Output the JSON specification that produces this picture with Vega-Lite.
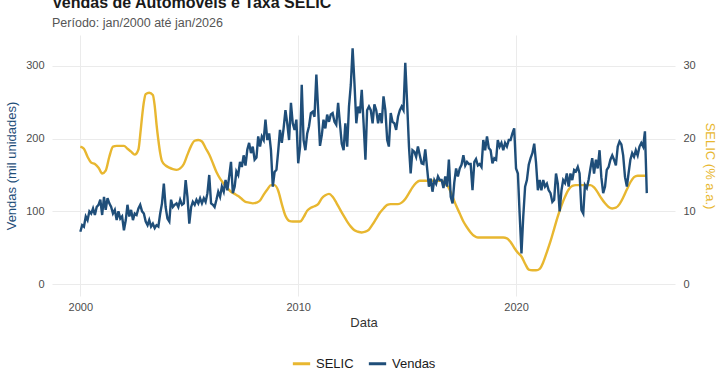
{
"$schema": "https://vega.github.io/schema/vega-lite/v6.json",
"width": 623, "height": 261,
"autosize": {"type": "none"},
"padding": {"left": 52, "top": 35, "right": 45, "bottom": 79},
"background": "white",
"title": {"text": "Vendas de Automóveis e Taxa SELIC", "subtitle": "Período: jan/2000 até jan/2026", "anchor": "start", "frame": "group", "font": "Liberation Sans", "fontSize": 16, "fontWeight": "bold", "color": "#1a1a1a", "subtitleFont": "Liberation Sans", "subtitleFontSize": 12.5, "subtitleColor": "#555555", "subtitlePadding": 6, "offset": 6},
"datasets": {
"vendas": [
{"mes":"2000-01-01","vendas":72},{"mes":"2000-02-01","vendas":81},{"mes":"2000-03-01","vendas":79},{"mes":"2000-04-01","vendas":93},{"mes":"2000-05-01","vendas":88},{"mes":"2000-06-01","vendas":100},{"mes":"2000-07-01","vendas":97},{"mes":"2000-08-01","vendas":104},{"mes":"2000-09-01","vendas":95},{"mes":"2000-10-01","vendas":106},{"mes":"2000-11-01","vendas":109},{"mes":"2000-12-01","vendas":116},
{"mes":"2001-01-01","vendas":95},{"mes":"2001-02-01","vendas":120},{"mes":"2001-03-01","vendas":102},{"mes":"2001-04-01","vendas":118},{"mes":"2001-05-01","vendas":111},{"mes":"2001-06-01","vendas":106},{"mes":"2001-07-01","vendas":97},{"mes":"2001-08-01","vendas":102},{"mes":"2001-09-01","vendas":88},{"mes":"2001-10-01","vendas":100},{"mes":"2001-11-01","vendas":90},{"mes":"2001-12-01","vendas":93},
{"mes":"2002-01-01","vendas":74},{"mes":"2002-02-01","vendas":88},{"mes":"2002-03-01","vendas":109},{"mes":"2002-04-01","vendas":93},{"mes":"2002-05-01","vendas":102},{"mes":"2002-06-01","vendas":88},{"mes":"2002-07-01","vendas":97},{"mes":"2002-08-01","vendas":95},{"mes":"2002-09-01","vendas":104},{"mes":"2002-10-01","vendas":109},{"mes":"2002-11-01","vendas":100},{"mes":"2002-12-01","vendas":97},
{"mes":"2003-01-01","vendas":86},{"mes":"2003-02-01","vendas":81},{"mes":"2003-03-01","vendas":88},{"mes":"2003-04-01","vendas":79},{"mes":"2003-05-01","vendas":83},{"mes":"2003-06-01","vendas":77},{"mes":"2003-07-01","vendas":81},{"mes":"2003-08-01","vendas":79},{"mes":"2003-09-01","vendas":97},{"mes":"2003-10-01","vendas":111},{"mes":"2003-11-01","vendas":138},{"mes":"2003-12-01","vendas":106},
{"mes":"2004-01-01","vendas":90},{"mes":"2004-02-01","vendas":86},{"mes":"2004-03-01","vendas":116},{"mes":"2004-04-01","vendas":106},{"mes":"2004-05-01","vendas":109},{"mes":"2004-06-01","vendas":111},{"mes":"2004-07-01","vendas":106},{"mes":"2004-08-01","vendas":116},{"mes":"2004-09-01","vendas":109},{"mes":"2004-10-01","vendas":111},{"mes":"2004-11-01","vendas":143},{"mes":"2004-12-01","vendas":120},
{"mes":"2005-01-01","vendas":83},{"mes":"2005-02-01","vendas":106},{"mes":"2005-03-01","vendas":113},{"mes":"2005-04-01","vendas":109},{"mes":"2005-05-01","vendas":116},{"mes":"2005-06-01","vendas":111},{"mes":"2005-07-01","vendas":118},{"mes":"2005-08-01","vendas":111},{"mes":"2005-09-01","vendas":118},{"mes":"2005-10-01","vendas":113},{"mes":"2005-11-01","vendas":125},{"mes":"2005-12-01","vendas":150},
{"mes":"2006-01-01","vendas":111},{"mes":"2006-02-01","vendas":109},{"mes":"2006-03-01","vendas":106},{"mes":"2006-04-01","vendas":116},{"mes":"2006-05-01","vendas":127},{"mes":"2006-06-01","vendas":120},{"mes":"2006-07-01","vendas":134},{"mes":"2006-08-01","vendas":127},{"mes":"2006-09-01","vendas":143},{"mes":"2006-10-01","vendas":129},{"mes":"2006-11-01","vendas":148},{"mes":"2006-12-01","vendas":168},
{"mes":"2007-01-01","vendas":125},{"mes":"2007-02-01","vendas":134},{"mes":"2007-03-01","vendas":155},{"mes":"2007-04-01","vendas":150},{"mes":"2007-05-01","vendas":168},{"mes":"2007-06-01","vendas":161},{"mes":"2007-07-01","vendas":177},{"mes":"2007-08-01","vendas":163},{"mes":"2007-09-01","vendas":185},{"mes":"2007-10-01","vendas":194},{"mes":"2007-11-01","vendas":180},{"mes":"2007-12-01","vendas":189},
{"mes":"2008-01-01","vendas":171},{"mes":"2008-02-01","vendas":174},{"mes":"2008-03-01","vendas":203},{"mes":"2008-04-01","vendas":189},{"mes":"2008-05-01","vendas":203},{"mes":"2008-06-01","vendas":198},{"mes":"2008-07-01","vendas":226},{"mes":"2008-08-01","vendas":198},{"mes":"2008-09-01","vendas":207},{"mes":"2008-10-01","vendas":184},{"mes":"2008-11-01","vendas":134},{"mes":"2008-12-01","vendas":154},
{"mes":"2009-01-01","vendas":157},{"mes":"2009-02-01","vendas":184},{"mes":"2009-03-01","vendas":212},{"mes":"2009-04-01","vendas":194},{"mes":"2009-05-01","vendas":214},{"mes":"2009-06-01","vendas":239},{"mes":"2009-07-01","vendas":221},{"mes":"2009-08-01","vendas":198},{"mes":"2009-09-01","vendas":249},{"mes":"2009-10-01","vendas":221},{"mes":"2009-11-01","vendas":212},{"mes":"2009-12-01","vendas":226},
{"mes":"2010-01-01","vendas":166},{"mes":"2010-02-01","vendas":189},{"mes":"2010-03-01","vendas":274},{"mes":"2010-04-01","vendas":198},{"mes":"2010-05-01","vendas":184},{"mes":"2010-06-01","vendas":207},{"mes":"2010-07-01","vendas":217},{"mes":"2010-08-01","vendas":235},{"mes":"2010-09-01","vendas":237},{"mes":"2010-10-01","vendas":230},{"mes":"2010-11-01","vendas":288},{"mes":"2010-12-01","vendas":240},
{"mes":"2011-01-01","vendas":190},{"mes":"2011-02-01","vendas":205},{"mes":"2011-03-01","vendas":226},{"mes":"2011-04-01","vendas":214},{"mes":"2011-05-01","vendas":233},{"mes":"2011-06-01","vendas":223},{"mes":"2011-07-01","vendas":233},{"mes":"2011-08-01","vendas":235},{"mes":"2011-09-01","vendas":223},{"mes":"2011-10-01","vendas":219},{"mes":"2011-11-01","vendas":249},{"mes":"2011-12-01","vendas":221},
{"mes":"2012-01-01","vendas":193},{"mes":"2012-02-01","vendas":184},{"mes":"2012-03-01","vendas":221},{"mes":"2012-04-01","vendas":189},{"mes":"2012-05-01","vendas":244},{"mes":"2012-06-01","vendas":274},{"mes":"2012-07-01","vendas":324},{"mes":"2012-08-01","vendas":276},{"mes":"2012-09-01","vendas":221},{"mes":"2012-10-01","vendas":244},{"mes":"2012-11-01","vendas":235},{"mes":"2012-12-01","vendas":267},
{"mes":"2013-01-01","vendas":221},{"mes":"2013-02-01","vendas":171},{"mes":"2013-03-01","vendas":239},{"mes":"2013-04-01","vendas":244},{"mes":"2013-05-01","vendas":239},{"mes":"2013-06-01","vendas":221},{"mes":"2013-07-01","vendas":247},{"mes":"2013-08-01","vendas":239},{"mes":"2013-09-01","vendas":221},{"mes":"2013-10-01","vendas":235},{"mes":"2013-11-01","vendas":221},{"mes":"2013-12-01","vendas":258},
{"mes":"2014-01-01","vendas":239},{"mes":"2014-02-01","vendas":198},{"mes":"2014-03-01","vendas":189},{"mes":"2014-04-01","vendas":235},{"mes":"2014-05-01","vendas":223},{"mes":"2014-06-01","vendas":221},{"mes":"2014-07-01","vendas":212},{"mes":"2014-08-01","vendas":230},{"mes":"2014-09-01","vendas":239},{"mes":"2014-10-01","vendas":244},{"mes":"2014-11-01","vendas":239},{"mes":"2014-12-01","vendas":304},
{"mes":"2015-01-01","vendas":249},{"mes":"2015-02-01","vendas":189},{"mes":"2015-03-01","vendas":152},{"mes":"2015-04-01","vendas":184},{"mes":"2015-05-01","vendas":182},{"mes":"2015-06-01","vendas":175},{"mes":"2015-07-01","vendas":189},{"mes":"2015-08-01","vendas":177},{"mes":"2015-09-01","vendas":166},{"mes":"2015-10-01","vendas":165},{"mes":"2015-11-01","vendas":185},{"mes":"2015-12-01","vendas":160},
{"mes":"2016-01-01","vendas":134},{"mes":"2016-02-01","vendas":145},{"mes":"2016-03-01","vendas":127},{"mes":"2016-04-01","vendas":143},{"mes":"2016-05-01","vendas":138},{"mes":"2016-06-01","vendas":148},{"mes":"2016-07-01","vendas":143},{"mes":"2016-08-01","vendas":143},{"mes":"2016-09-01","vendas":132},{"mes":"2016-10-01","vendas":148},{"mes":"2016-11-01","vendas":134},{"mes":"2016-12-01","vendas":171},
{"mes":"2017-01-01","vendas":120},{"mes":"2017-02-01","vendas":111},{"mes":"2017-03-01","vendas":139},{"mes":"2017-04-01","vendas":159},{"mes":"2017-05-01","vendas":148},{"mes":"2017-06-01","vendas":159},{"mes":"2017-07-01","vendas":164},{"mes":"2017-08-01","vendas":177},{"mes":"2017-09-01","vendas":163},{"mes":"2017-10-01","vendas":168},{"mes":"2017-11-01","vendas":165},{"mes":"2017-12-01","vendas":165},
{"mes":"2018-01-01","vendas":129},{"mes":"2018-02-01","vendas":168},{"mes":"2018-03-01","vendas":172},{"mes":"2018-04-01","vendas":163},{"mes":"2018-05-01","vendas":165},{"mes":"2018-06-01","vendas":161},{"mes":"2018-07-01","vendas":198},{"mes":"2018-08-01","vendas":184},{"mes":"2018-09-01","vendas":203},{"mes":"2018-10-01","vendas":187},{"mes":"2018-11-01","vendas":184},{"mes":"2018-12-01","vendas":166},
{"mes":"2019-01-01","vendas":173},{"mes":"2019-02-01","vendas":171},{"mes":"2019-03-01","vendas":198},{"mes":"2019-04-01","vendas":189},{"mes":"2019-05-01","vendas":194},{"mes":"2019-06-01","vendas":184},{"mes":"2019-07-01","vendas":194},{"mes":"2019-08-01","vendas":189},{"mes":"2019-09-01","vendas":198},{"mes":"2019-10-01","vendas":198},{"mes":"2019-11-01","vendas":207},{"mes":"2019-12-01","vendas":214},
{"mes":"2020-01-01","vendas":159},{"mes":"2020-02-01","vendas":152},{"mes":"2020-03-01","vendas":97},{"mes":"2020-04-01","vendas":42},{"mes":"2020-05-01","vendas":93},{"mes":"2020-06-01","vendas":134},{"mes":"2020-07-01","vendas":143},{"mes":"2020-08-01","vendas":164},{"mes":"2020-09-01","vendas":173},{"mes":"2020-10-01","vendas":180},{"mes":"2020-11-01","vendas":193},{"mes":"2020-12-01","vendas":167},
{"mes":"2021-01-01","vendas":129},{"mes":"2021-02-01","vendas":143},{"mes":"2021-03-01","vendas":129},{"mes":"2021-04-01","vendas":143},{"mes":"2021-05-01","vendas":134},{"mes":"2021-06-01","vendas":138},{"mes":"2021-07-01","vendas":129},{"mes":"2021-08-01","vendas":125},{"mes":"2021-09-01","vendas":113},{"mes":"2021-10-01","vendas":116},{"mes":"2021-11-01","vendas":152},{"mes":"2021-12-01","vendas":138},
{"mes":"2022-01-01","vendas":100},{"mes":"2022-02-01","vendas":129},{"mes":"2022-03-01","vendas":143},{"mes":"2022-04-01","vendas":139},{"mes":"2022-05-01","vendas":152},{"mes":"2022-06-01","vendas":134},{"mes":"2022-07-01","vendas":152},{"mes":"2022-08-01","vendas":143},{"mes":"2022-09-01","vendas":157},{"mes":"2022-10-01","vendas":155},{"mes":"2022-11-01","vendas":161},{"mes":"2022-12-01","vendas":152},
{"mes":"2023-01-01","vendas":102},{"mes":"2023-02-01","vendas":97},{"mes":"2023-03-01","vendas":136},{"mes":"2023-04-01","vendas":132},{"mes":"2023-05-01","vendas":143},{"mes":"2023-06-01","vendas":159},{"mes":"2023-07-01","vendas":173},{"mes":"2023-08-01","vendas":152},{"mes":"2023-09-01","vendas":171},{"mes":"2023-10-01","vendas":159},{"mes":"2023-11-01","vendas":184},{"mes":"2023-12-01","vendas":147},
{"mes":"2024-01-01","vendas":125},{"mes":"2024-02-01","vendas":134},{"mes":"2024-03-01","vendas":157},{"mes":"2024-04-01","vendas":161},{"mes":"2024-05-01","vendas":171},{"mes":"2024-06-01","vendas":177},{"mes":"2024-07-01","vendas":171},{"mes":"2024-08-01","vendas":163},{"mes":"2024-09-01","vendas":189},{"mes":"2024-10-01","vendas":196},{"mes":"2024-11-01","vendas":192},{"mes":"2024-12-01","vendas":177},
{"mes":"2025-01-01","vendas":147},{"mes":"2025-02-01","vendas":134},{"mes":"2025-03-01","vendas":152},{"mes":"2025-04-01","vendas":171},{"mes":"2025-05-01","vendas":180},{"mes":"2025-06-01","vendas":175},{"mes":"2025-07-01","vendas":184},{"mes":"2025-08-01","vendas":177},{"mes":"2025-09-01","vendas":189},{"mes":"2025-10-01","vendas":194},{"mes":"2025-11-01","vendas":189},{"mes":"2025-12-01","vendas":210},
{"mes":"2026-01-01","vendas":125}
],
"selic": [
{"mes":"2000-01-01","taxa":18.9},{"mes":"2000-03-01","taxa":18.6},{"mes":"2000-05-01","taxa":17.5},{"mes":"2000-07-01","taxa":16.7},{"mes":"2000-09-01","taxa":16.5},{"mes":"2000-11-01","taxa":16.0},
{"mes":"2001-01-01","taxa":15.2},{"mes":"2001-03-01","taxa":15.6},{"mes":"2001-05-01","taxa":17.5},{"mes":"2001-07-01","taxa":18.9},{"mes":"2001-09-01","taxa":19.0},{"mes":"2001-11-01","taxa":19.0},
{"mes":"2002-01-01","taxa":19.0},{"mes":"2002-03-01","taxa":18.6},{"mes":"2002-05-01","taxa":18.2},{"mes":"2002-07-01","taxa":17.8},{"mes":"2002-09-01","taxa":18.5},{"mes":"2002-10-01","taxa":20.5},{"mes":"2002-11-01","taxa":23.0},{"mes":"2002-12-01","taxa":25.0},
{"mes":"2003-01-01","taxa":26.1},{"mes":"2003-03-01","taxa":26.3},{"mes":"2003-05-01","taxa":26.0},{"mes":"2003-06-01","taxa":24.5},{"mes":"2003-07-01","taxa":22.0},{"mes":"2003-08-01","taxa":19.8},{"mes":"2003-09-01","taxa":18.0},{"mes":"2003-10-01","taxa":16.9},{"mes":"2003-12-01","taxa":16.3},
{"mes":"2004-02-01","taxa":16.0},{"mes":"2004-04-01","taxa":15.8},{"mes":"2004-06-01","taxa":15.7},{"mes":"2004-08-01","taxa":15.9},{"mes":"2004-10-01","taxa":16.5},{"mes":"2004-12-01","taxa":17.8},
{"mes":"2005-02-01","taxa":19.0},{"mes":"2005-04-01","taxa":19.7},{"mes":"2005-06-01","taxa":19.8},{"mes":"2005-08-01","taxa":19.6},{"mes":"2005-10-01","taxa":18.7},{"mes":"2005-12-01","taxa":17.8},
{"mes":"2006-02-01","taxa":16.6},{"mes":"2006-04-01","taxa":15.4},{"mes":"2006-06-01","taxa":14.5},{"mes":"2006-08-01","taxa":13.8},{"mes":"2006-10-01","taxa":13.2},{"mes":"2006-12-01","taxa":12.7},
{"mes":"2007-02-01","taxa":12.4},{"mes":"2007-04-01","taxa":12.1},{"mes":"2007-06-01","taxa":11.7},{"mes":"2007-08-01","taxa":11.3},{"mes":"2007-10-01","taxa":11.2},{"mes":"2007-12-01","taxa":11.1},
{"mes":"2008-02-01","taxa":11.2},{"mes":"2008-04-01","taxa":11.5},{"mes":"2008-06-01","taxa":12.3},{"mes":"2008-08-01","taxa":13.0},{"mes":"2008-10-01","taxa":13.6},{"mes":"2008-12-01","taxa":13.6},
{"mes":"2009-02-01","taxa":12.8},{"mes":"2009-04-01","taxa":11.0},{"mes":"2009-06-01","taxa":9.4},{"mes":"2009-08-01","taxa":8.7},{"mes":"2009-10-01","taxa":8.6},{"mes":"2009-12-01","taxa":8.6},
{"mes":"2010-02-01","taxa":8.6},{"mes":"2010-04-01","taxa":9.2},{"mes":"2010-06-01","taxa":10.1},{"mes":"2010-08-01","taxa":10.5},{"mes":"2010-10-01","taxa":10.7},{"mes":"2010-12-01","taxa":11.0},
{"mes":"2011-02-01","taxa":11.8},{"mes":"2011-04-01","taxa":12.2},{"mes":"2011-06-01","taxa":12.4},{"mes":"2011-08-01","taxa":12.0},{"mes":"2011-10-01","taxa":11.2},{"mes":"2011-12-01","taxa":10.3},
{"mes":"2012-02-01","taxa":9.4},{"mes":"2012-04-01","taxa":8.6},{"mes":"2012-06-01","taxa":7.9},{"mes":"2012-08-01","taxa":7.4},{"mes":"2012-10-01","taxa":7.2},{"mes":"2012-12-01","taxa":7.1},
{"mes":"2013-02-01","taxa":7.2},{"mes":"2013-04-01","taxa":7.5},{"mes":"2013-06-01","taxa":8.2},{"mes":"2013-08-01","taxa":9.0},{"mes":"2013-10-01","taxa":9.8},{"mes":"2013-12-01","taxa":10.4},
{"mes":"2014-02-01","taxa":10.9},{"mes":"2014-04-01","taxa":11.0},{"mes":"2014-06-01","taxa":11.0},{"mes":"2014-08-01","taxa":11.0},{"mes":"2014-10-01","taxa":11.2},{"mes":"2014-12-01","taxa":11.7},
{"mes":"2015-02-01","taxa":12.5},{"mes":"2015-04-01","taxa":13.3},{"mes":"2015-06-01","taxa":13.9},{"mes":"2015-08-01","taxa":14.2},{"mes":"2015-10-01","taxa":14.2},{"mes":"2015-12-01","taxa":14.2},
{"mes":"2016-02-01","taxa":14.2},{"mes":"2016-04-01","taxa":14.2},{"mes":"2016-06-01","taxa":14.2},{"mes":"2016-08-01","taxa":14.2},{"mes":"2016-10-01","taxa":13.8},{"mes":"2016-12-01","taxa":13.2},
{"mes":"2017-02-01","taxa":12.0},{"mes":"2017-04-01","taxa":10.8},{"mes":"2017-06-01","taxa":9.7},{"mes":"2017-08-01","taxa":8.6},{"mes":"2017-10-01","taxa":7.8},{"mes":"2017-12-01","taxa":7.1},
{"mes":"2018-02-01","taxa":6.6},{"mes":"2018-04-01","taxa":6.4},{"mes":"2018-06-01","taxa":6.4},{"mes":"2018-08-01","taxa":6.4},{"mes":"2018-10-01","taxa":6.4},{"mes":"2018-12-01","taxa":6.4},
{"mes":"2019-02-01","taxa":6.4},{"mes":"2019-04-01","taxa":6.4},{"mes":"2019-06-01","taxa":6.4},{"mes":"2019-08-01","taxa":6.3},{"mes":"2019-10-01","taxa":5.8},{"mes":"2019-12-01","taxa":5.0},
{"mes":"2020-02-01","taxa":4.3},{"mes":"2020-04-01","taxa":3.8},{"mes":"2020-06-01","taxa":2.8},{"mes":"2020-08-01","taxa":2.0},{"mes":"2020-10-01","taxa":1.9},{"mes":"2020-12-01","taxa":1.9},
{"mes":"2021-02-01","taxa":2.1},{"mes":"2021-04-01","taxa":3.0},{"mes":"2021-06-01","taxa":4.4},{"mes":"2021-08-01","taxa":5.9},{"mes":"2021-10-01","taxa":7.6},{"mes":"2021-12-01","taxa":9.3},
{"mes":"2022-02-01","taxa":10.8},{"mes":"2022-04-01","taxa":12.0},{"mes":"2022-06-01","taxa":13.0},{"mes":"2022-08-01","taxa":13.5},{"mes":"2022-10-01","taxa":13.6},{"mes":"2022-12-01","taxa":13.6},
{"mes":"2023-02-01","taxa":13.6},{"mes":"2023-04-01","taxa":13.6},{"mes":"2023-06-01","taxa":13.6},{"mes":"2023-08-01","taxa":13.3},{"mes":"2023-10-01","taxa":12.6},{"mes":"2023-12-01","taxa":11.8},
{"mes":"2024-02-01","taxa":11.1},{"mes":"2024-04-01","taxa":10.6},{"mes":"2024-06-01","taxa":10.4},{"mes":"2024-08-01","taxa":10.5},{"mes":"2024-10-01","taxa":11.0},{"mes":"2024-12-01","taxa":11.9},
{"mes":"2025-02-01","taxa":13.0},{"mes":"2025-04-01","taxa":14.0},{"mes":"2025-06-01","taxa":14.7},{"mes":"2025-08-01","taxa":14.9},{"mes":"2025-10-01","taxa":14.9},{"mes":"2025-12-01","taxa":14.9},
{"mes":"2026-01-01","taxa":14.9}
]
},
"layer": [
{
"data": {"name": "selic"},
"mark": {"type": "line", "strokeWidth": 2.4, "interpolate": "monotone"},
"encoding": {
"x": {"field": "mes", "type": "temporal",
 "scale": {"type": "utc", "nice": false, "domain": [{"year": 1998, "month": 9, "date": 13, "utc": true}, {"year": 2027, "month": 4, "date": 19, "utc": true}]},
 "axis": {"title": "Data", "format": "%Y", "values": [{"year": 2000, "utc": true}, {"year": 2010, "utc": true}, {"year": 2020, "utc": true}], "grid": true, "labelPadding": 5, "titlePadding": 4, "titleColor": "#333333"}},
"y": {"field": "taxa", "type": "quantitative",
 "scale": {"domain": [-1.63, 34.23], "nice": false, "zero": false},
 "axis": {"orient": "right", "title": "SELIC (% a.a.)", "values": [0, 10, 20, 30], "grid": false, "labelPadding": 8, "titlePadding": 7, "titleColor": "#E8B730"}},
"color": {"datum": "SELIC", "type": "nominal",
 "scale": {"domain": ["SELIC", "Vendas"], "range": ["#E8B730", "#1F4E79"]},
 "legend": {"title": null, "orient": "none", "legendX": 239, "legendY": 318, "direction": "horizontal", "symbolType": "stroke", "symbolStrokeWidth": 3, "symbolSize": 300, "labelFont": "Liberation Sans", "labelFontSize": 13, "labelColor": "#1a1a1a", "columnPadding": 8}}
}
},
{
"data": {"name": "vendas"},
"mark": {"type": "line", "strokeWidth": 2.4},
"encoding": {
"x": {"field": "mes", "type": "temporal"},
"y": {"field": "vendas", "type": "quantitative",
 "scale": {"domain": [-16.3, 342.3], "nice": false, "zero": false},
 "axis": {"orient": "left", "title": "Vendas (mil unidades)", "values": [0, 100, 200, 300], "grid": true, "labelPadding": 8, "titlePadding": 7, "titleColor": "#1F4E79"}},
"color": {"datum": "Vendas", "type": "nominal"}
}
}
],
"resolve": {"scale": {"y": "independent"}},
"config": {
"view": {"stroke": null},
"font": "Liberation Sans",
"axis": {"domain": false, "ticks": false, "labelFont": "Liberation Sans", "labelFontSize": 11, "labelColor": "#4d4d4d", "titleFont": "Liberation Sans", "titleFontSize": 13, "titleFontWeight": "normal", "gridColor": "#ebebeb", "gridWidth": 1}
}
}
